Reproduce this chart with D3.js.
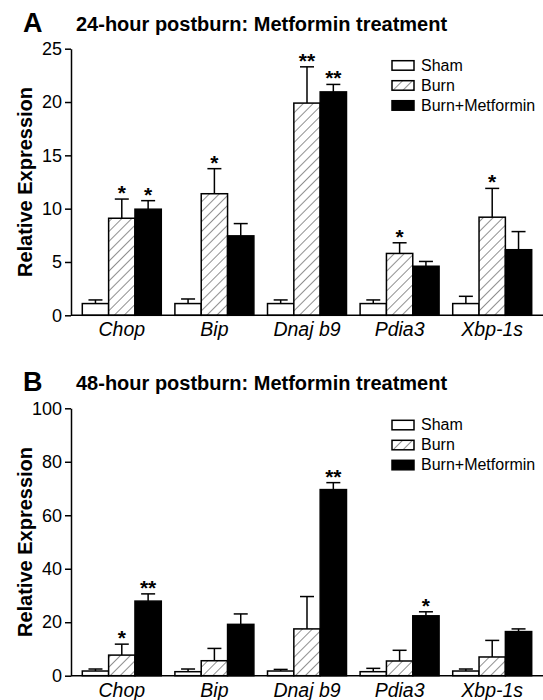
<!DOCTYPE html>
<html>
<head>
<meta charset="utf-8">
<script src="https://cdn.jsdelivr.net/npm/d3@7"></script>
<style>
  body { margin: 0; background: #fff; }
  text { font-family: Arial, "Liberation Sans", sans-serif; fill: #000; }
</style>
</head>
<body>
<div id="chart"></div>
<script>
// gene categories and treatment groups
const genes = ["Chop", "Bip", "Dnaj b9", "Pdia3", "Xbp-1s"];
const groups = ["Sham", "Burn", "Burn+Metformin"];

// 24-hour panel (means and upper SEM)
const sham24 = [1.1, 1.1, 1.1, 1.1, 1.1];
const shamErr24 = [0.34, 0.43, 0.34, 0.34, 0.68];
const burn24 = [9.1, 11.4, 19.9, 5.8, 9.2];
const burnErr24 = [1.8, 2.35, 3.4, 1.0, 2.7];
const met24 = [9.95, 7.45, 20.95, 4.6, 6.15];
const metErr24 = [0.8, 1.15, 0.7, 0.45, 1.7];
const sig24 = [["", "*", "*"], ["", "*", ""], ["", "**", "**"], ["", "*", ""], ["", "*", ""]];
const ticks24 = [0, 5, 10, 15, 20, 25];

// 48-hour panel
const sham48 = [1.75, 1.5, 1.75, 1.5, 1.75];
const shamErr48 = [0.75, 1.0, 0.6, 1.25, 0.75];
const burn48 = [7.7, 5.6, 17.5, 5.5, 7.0];
const burnErr48 = [4.1, 4.6, 12.1, 4.0, 6.2];
const met48 = [27.9, 19.2, 69.6, 22.4, 16.5];
const metErr48 = [2.7, 3.9, 2.6, 1.5, 1.0];
const sig48 = [["", "*", "**"], ["", "", ""], ["", "", "**"], ["", "", "*"], ["", "", ""]];
const ticks48 = [0, 20, 40, 60, 80, 100];

const width = 543, height = 700;

const svg = d3.select("#chart").append("svg")
  .attr("width", width)
  .attr("height", height);

// hatch pattern for the Burn group
const defs = svg.append("defs");
defs.append("pattern")
  .attr("id", "hatch")
  .attr("patternUnits", "userSpaceOnUse")
  .attr("width", 7)
  .attr("height", 7)
  .attr("patternTransform", "rotate(45)")
  .call(p => p.append("rect").attr("width", 7).attr("height", 7).attr("fill", "#fff"))
  .append("line")
  .attr("x1", 0).attr("y1", 0)
  .attr("x2", 0).attr("y2", 7)
  .attr("stroke", "#222")
  .attr("stroke-width", 1);

const fills = { "Sham": "#fff", "Burn": "url(#hatch)", "Burn+Metformin": "#000" };

function buildRows(sham, shamErr, burn, burnErr, met, metErr, sig) {
  return genes.map((g, i) => ({
    gene: g,
    bars: [
      { group: "Sham", value: sham[i], err: shamErr[i], sig: sig[i][0] },
      { group: "Burn", value: burn[i], err: burnErr[i], sig: sig[i][1] },
      { group: "Burn+Metformin", value: met[i], err: metErr[i], sig: sig[i][2] }
    ]
  }));
}

function drawPanel(cfg) {
  const { letter, title, top, bottom, yMax, ticks, rows } = cfg;
  const left = 71, right = 543;

  const x0 = d3.scaleBand().domain(genes).range([left, right])
    .paddingInner(0.147).paddingOuter(0.122);
  const x1 = d3.scaleBand().domain(groups).range([0, x0.bandwidth()]);
  const y = d3.scaleLinear().domain([0, yMax]).range([bottom, top]);

  const g = svg.append("g");

  // panel letter and title
  g.append("text")
    .attr("x", 23).attr("y", top - 17)
    .attr("font-size", 27).attr("font-weight", "bold")
    .text(letter);
  g.append("text")
    .attr("x", 76).attr("y", top - 18)
    .attr("font-size", 20).attr("font-weight", "bold")
    .text(title);

  // bars
  const grp = g.selectAll(".gene")
    .data(rows)
    .join("g")
    .attr("class", "gene")
    .attr("transform", d => `translate(${x0(d.gene)},0)`);

  // error bars (upper only)
  const eb = grp.selectAll(".err")
    .data(d => d.bars)
    .join("g")
    .attr("class", "err")
    .attr("stroke", "#000")
    .attr("stroke-width", 1.5);
  eb.append("line")
    .attr("x1", d => x1(d.group) + x1.bandwidth() / 2)
    .attr("x2", d => x1(d.group) + x1.bandwidth() / 2)
    .attr("y1", d => y(d.value))
    .attr("y2", d => y(d.value + d.err));
  eb.append("line")
    .attr("x1", d => x1(d.group) + x1.bandwidth() / 2 - 7)
    .attr("x2", d => x1(d.group) + x1.bandwidth() / 2 + 7)
    .attr("y1", d => y(d.value + d.err))
    .attr("y2", d => y(d.value + d.err));

  grp.selectAll("rect")
    .data(d => d.bars)
    .join("rect")
    .attr("x", d => x1(d.group))
    .attr("y", d => y(d.value))
    .attr("width", x1.bandwidth())
    .attr("height", d => y(0) - y(d.value))
    .attr("fill", d => fills[d.group])
    .attr("stroke", "#000")
    .attr("stroke-width", 1.5);

  // significance asterisks
  grp.selectAll(".sig")
    .data(d => d.bars.filter(b => b.sig))
    .join("text")
    .attr("class", "sig")
    .attr("x", d => x1(d.group) + x1.bandwidth() / 2)
    .attr("y", d => y(d.value + d.err) + 1)
    .attr("text-anchor", "middle")
    .attr("font-size", 21)
    .attr("font-weight", "bold")
    .text(d => d.sig);

  // y axis
  const yAxis = d3.axisLeft(y).tickValues(ticks).tickSize(6).tickPadding(3).tickSizeOuter(0);
  g.append("g")
    .attr("transform", `translate(${left},0)`)
    .call(yAxis)
    .call(a => a.select(".domain").attr("stroke-width", 1.5))
    .call(a => a.selectAll(".tick line").attr("stroke-width", 1.5))
    .call(a => a.selectAll(".tick text")
      .attr("font-size", 18)
      .attr("font-family", "Arial, 'Liberation Sans', sans-serif")
      .attr("fill", "#000"));

  // x axis
  const xAxis = d3.axisBottom(x0).tickSize(0).tickPadding(7).tickSizeOuter(0);
  g.append("g")
    .attr("transform", `translate(0,${bottom})`)
    .call(xAxis)
    .call(a => a.select(".domain").attr("stroke-width", 1.5).attr("d", `M${left},0H${right}`))
    .call(a => a.selectAll(".tick text")
      .attr("font-size", 19.5)
      .attr("font-style", "italic")
      .attr("font-family", "Arial, 'Liberation Sans', sans-serif")
      .attr("fill", "#000"));

  // y axis title
  g.append("text")
    .attr("transform", `translate(32,${(top + bottom) / 2}) rotate(-90)`)
    .attr("text-anchor", "middle")
    .attr("font-size", 20)
    .attr("font-weight", "bold")
    .text("Relative Expression");

  // legend
  const leg = g.append("g").attr("transform", `translate(392,${top + 12})`);
  const item = leg.selectAll("g")
    .data(groups)
    .join("g")
    .attr("transform", (d, i) => `translate(0,${i * 20})`);
  item.append("rect")
    .attr("width", 22).attr("height", 9.5)
    .attr("fill", d => fills[d])
    .attr("stroke", "#000")
    .attr("stroke-width", 1.5);
  item.append("text")
    .attr("x", 29).attr("y", 10)
    .attr("font-size", 16)
    .text(d => d);
}

drawPanel({
  letter: "A",
  title: "24-hour postburn: Metformin treatment",
  top: 48.7, bottom: 315.3, yMax: 25, ticks: ticks24,
  rows: buildRows(sham24, shamErr24, burn24, burnErr24, met24, metErr24, sig24)
});

drawPanel({
  letter: "B",
  title: "48-hour postburn: Metformin treatment",
  top: 408.3, bottom: 675.7, yMax: 100, ticks: ticks48,
  rows: buildRows(sham48, shamErr48, burn48, burnErr48, met48, metErr48, sig48)
});
</script>
</body>
</html>
